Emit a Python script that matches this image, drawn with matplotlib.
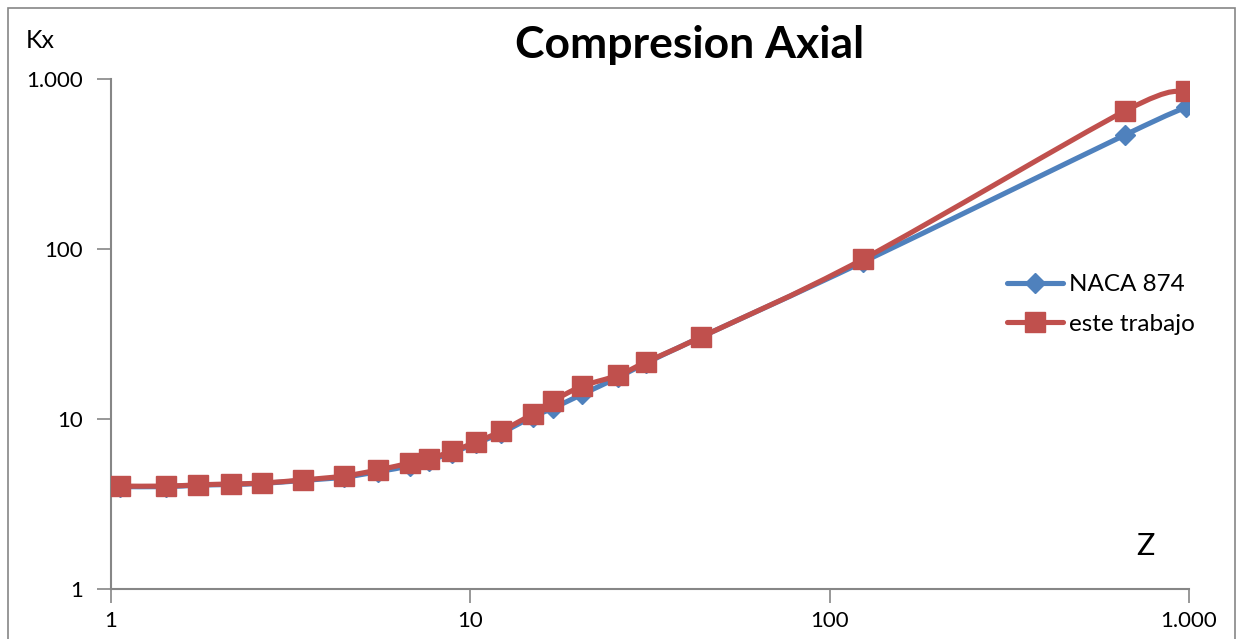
import numpy as np
import matplotlib.pyplot as plt
from matplotlib.path import Path
from matplotlib.patches import PathPatch, Rectangle
from matplotlib.lines import Line2D

plt.rcParams['font.family'] = ['Lato', 'DejaVu Sans']

# datos (Z, Kx)
z_naca = [1.06, 1.42, 1.75, 2.16, 2.63, 3.42, 4.45, 5.53, 6.79, 7.67, 8.89, 10.4,
          12.2, 14.9, 17.0, 20.5, 25.8, 30.8, 43.9, 124, 664, 982]
k_naca = [4.0, 4.0, 4.08, 4.12, 4.18, 4.35, 4.55, 4.9, 5.3, 5.7, 6.35, 7.2,
          8.3, 10.3, 11.6, 14.0, 17.6, 21.3, 30.4, 84, 469, 684]

z_trab = [1.06, 1.42, 1.75, 2.16, 2.63, 3.42, 4.45, 5.53, 6.79, 7.67, 8.89, 10.4,
          12.2, 14.9, 17.0, 20.5, 25.8, 30.8, 43.9, 124, 664, 982]
k_trab = [4.03, 4.03, 4.1, 4.15, 4.2, 4.38, 4.62, 5.01, 5.51, 5.82, 6.48, 7.32,
          8.5, 10.7, 12.8, 15.6, 18.1, 21.6, 30.4, 87.3, 649, 850]

x_ticks = [1, 10, 100, 1000]
x_labels = ["1", "10", "100", "1.000"]
y_ticks = [1, 10, 100, 1000]
y_labels = ["1", "10", "100", "1.000"]

AZUL = "#4F81BD"
ROJO = "#C0504D"
GRIS = "#868686"


def curva_suave(xs, ys):
    # linea suavizada tipo Excel (bezier en espacio log)
    lx = np.log10(xs)
    ly = np.log10(ys)
    n = len(lx)
    verts = [(xs[0], ys[0])]
    codes = [Path.MOVETO]
    for i in range(n - 1):
        i0 = max(i - 1, 0)
        i3 = min(i + 2, n - 1)
        c1 = (lx[i] + (lx[i + 1] - lx[i0]) / 6, ly[i] + (ly[i + 1] - ly[i0]) / 6)
        c2 = (lx[i + 1] - (lx[i3] - lx[i]) / 6, ly[i + 1] - (ly[i3] - ly[i]) / 6)
        verts += [(10 ** c1[0], 10 ** c1[1]), (10 ** c2[0], 10 ** c2[1]),
                  (xs[i + 1], ys[i + 1])]
        codes += [Path.CURVE4] * 3
    return Path(verts, codes)


fig = plt.figure(figsize=(12.4, 6.39), dpi=100)
fig.patches.append(Rectangle((8 / 1240, -0.1), (1235 - 8) / 1240, 1 - 8 / 639 + 0.1,
                             transform=fig.transFigure, fill=False,
                             edgecolor=GRIS, linewidth=1.2))

ax = fig.add_axes([111 / 1240, 1 - 589 / 639, (1189 - 111) / 1240, (589 - 79) / 639])
ax.set_xscale('log')
ax.set_yscale('log')
ax.set_xlim(1, 1000)
ax.set_ylim(1, 1000)

ax.add_patch(PathPatch(curva_suave(z_naca, k_naca), fill=False, edgecolor=AZUL,
                       linewidth=3.7, capstyle='round', joinstyle='round', zorder=3))
ax.plot(z_naca, k_naca, linestyle='none', marker='D', markersize=10,
        color=AZUL, zorder=4)
ax.add_patch(PathPatch(curva_suave(z_trab, k_trab), fill=False, edgecolor=ROJO,
                       linewidth=3.7, capstyle='round', joinstyle='round', zorder=5))
ax.plot(z_trab, k_trab, linestyle='none', marker='s', markersize=14,
        color=ROJO, zorder=6)

ax.set_xticks(x_ticks)
ax.set_xticklabels(x_labels)
ax.set_yticks(y_ticks)
ax.set_yticklabels(y_labels)
ax.minorticks_off()
ax.tick_params(axis='both', which='major', length=10, width=1.2, color=GRIS,
               labelsize=16, pad=6)
ax.tick_params(axis='y', pad=10)

for s in ['top', 'right']:
    ax.spines[s].set_visible(False)
for s in ['left', 'bottom']:
    ax.spines[s].set_color(GRIS)
    ax.spines[s].set_linewidth(1.5)

h1 = Line2D([], [], color=AZUL, linewidth=3.7, marker='D', markersize=10,
            solid_capstyle='round')
h2 = Line2D([], [], color=ROJO, linewidth=3.7, marker='s', markersize=14,
            solid_capstyle='round')
ax.legend([h1, h2], ["NACA 874", "este trabajo"], loc='upper left',
          bbox_to_anchor=(0.811, 0.66), frameon=False, fontsize=17.5,
          handlelength=2.3, handletextpad=0.25, labelspacing=0.75)

fig.text(690 / 1240, 1 - 45 / 639, "Compresion Axial", ha='center', va='center',
         fontsize=32, fontweight='bold')
fig.text(26 / 1240, 1 - 40 / 639, "Kx", ha='left', va='center', fontsize=18)
fig.text(1145 / 1240, 1 - 546 / 639, "Z", ha='center', va='center', fontsize=22)

fig.savefig("out.png", dpi=100)
